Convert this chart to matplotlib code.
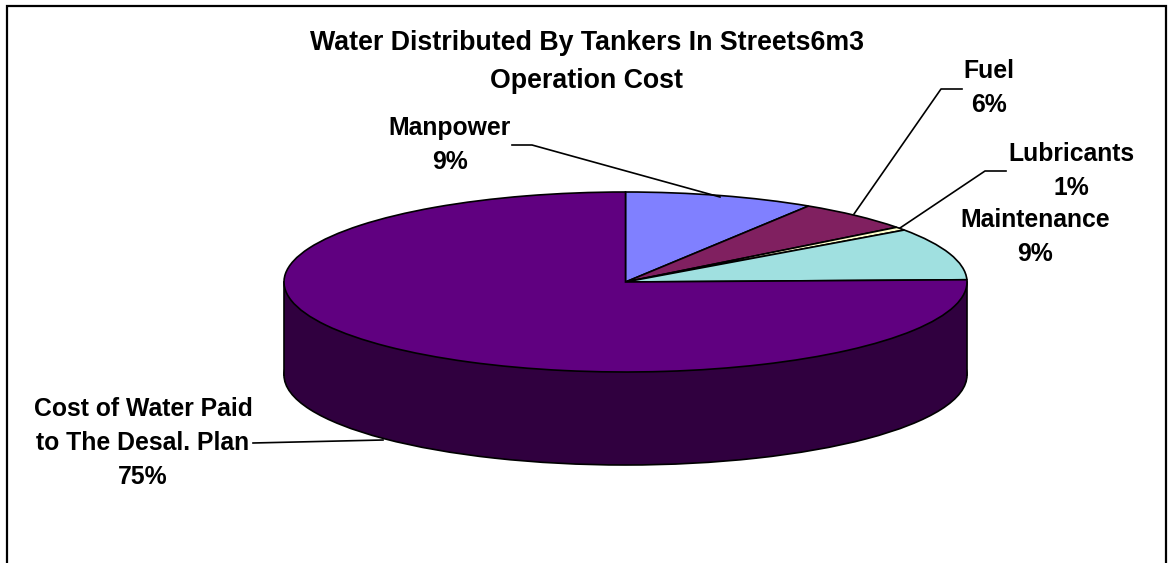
import matplotlib
matplotlib.use('Agg')
import matplotlib.pyplot as plt
from matplotlib.patches import Rectangle

names = ['Manpower', 'Fuel', 'Lubricants', 'Maintenance', 'Cost of Water Paid\nto The Desal. Plan']
values = [9.0, 5.6, 0.6, 9.4, 75.4]
colors = ['#8080ff', '#802060', '#ffffcc', '#a0e0e0', '#600080']
wall_color = '#30003f'
title = 'Water Distributed By Tankers In Streets6m3\nOperation Cost'

W, H = 1168, 563
cx, cy, rx, ry, depth = 625.5, 282, 341.5, 90, 93

plt.rcParams['font.family'] = ['Liberation Sans', 'DejaVu Sans']
fig = plt.figure(figsize=(W / 100, H / 100), dpi=100)

# pie axes: unit circle is stretched to the flat ellipse
ax = fig.add_axes([0, 0, 1, 1])
d = depth / ry
ax.pie([1], colors=[wall_color], center=(0, -d), startangle=90,
       wedgeprops={'edgecolor': 'black', 'linewidth': 1.2})
ax.add_patch(Rectangle((-1, -d), 2, d, facecolor=wall_color, edgecolor='none', zorder=1.5))
ax.plot([-1, -1], [-d, 0], color='black', lw=1.2, zorder=1.6)
ax.plot([1, 1], [-d, 0], color='black', lw=1.2, zorder=1.6)
ax.pie(values, colors=colors, startangle=90, counterclock=False,
       wedgeprops={'edgecolor': 'black', 'linewidth': 1.2, 'zorder': 3})
ax.set_aspect('auto')
ax.set_xlim(-cx / rx, (W - cx) / rx)
ax.set_ylim((cy - H) / ry, cy / ry)
ax.axis('off')

# overlay in pixel coords for frame, labels, leader lines
ov = fig.add_axes([0, 0, 1, 1], facecolor='none', zorder=5)
ov.set_xlim(0, W)
ov.set_ylim(H, 0)
ov.axis('off')

ov.plot([7, 7, 1166, 1166], [H, 6, 6, H], color='black', lw=1.6, solid_joinstyle='miter')

ov.plot([512, 532, 720], [145, 145, 197], color='black', lw=1.2)
ov.plot([962, 941, 854], [89, 89, 214], color='black', lw=1.2)
ov.plot([1006, 985, 900], [171, 171, 228], color='black', lw=1.2)
ov.plot([253, 383], [443, 440], color='black', lw=1.2)

ov.text(587, 62, title, ha='center', va='center', fontsize=19.3, fontweight='bold',
        linespacing=1.6, color='black')

label_font = {'fontsize': 17.8, 'fontweight': 'bold', 'ha': 'center', 'va': 'center',
              'linespacing': 1.5, 'color': 'black'}
label_pos = [(450, 145), (989, 88), (1071, 171), (1035, 237), (143, 443)]
clip = Rectangle((0, 0), 1134, H, transform=ov.transData)
for name, val, (x, y) in zip(names, values, label_pos):
    t = ov.text(x, y, f'{name}\n{round(val)}%', **label_font)
    if name == 'Lubricants':
        t.set_clip_path(clip)

fig.savefig('out.png', dpi=100, facecolor='white')
